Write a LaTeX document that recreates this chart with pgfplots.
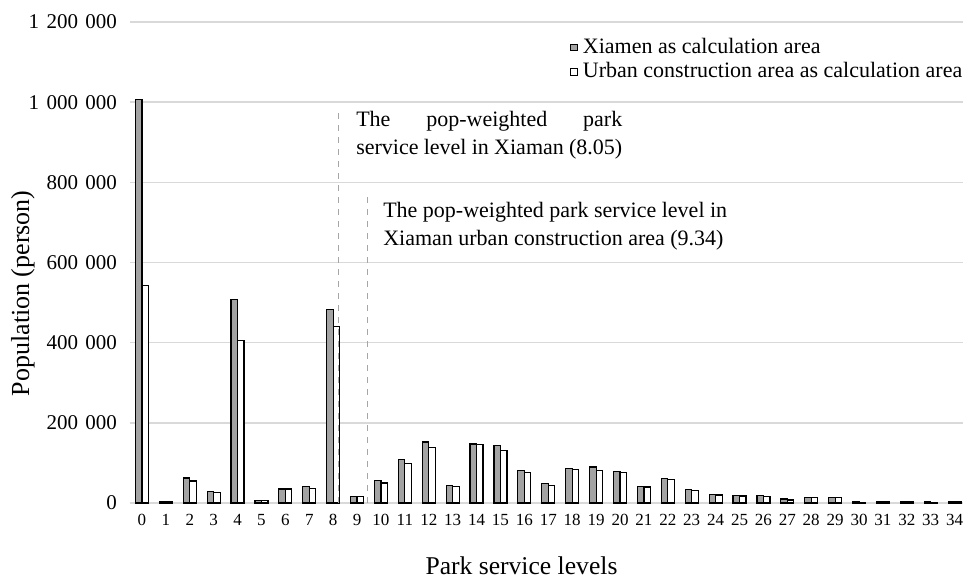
\documentclass[border=0pt]{standalone}
\usepackage{fontspec}
\setmainfont{Liberation Serif}
\usepackage{pgfplots}
\pgfplotsset{compat=1.18}
\definecolor{barg}{HTML}{A3A3A3}
\definecolor{gridg}{HTML}{D9D9D9}
\begin{document}
\begin{tikzpicture}
\begin{axis}[
  scale only axis,
  width=416.5pt, height=240.5pt,
  xmin=-0.5, xmax=34.35,
  ymin=0, ymax=1200000,
  ybar=0pt, bar width=3.25pt,
  axis line style={draw=none},
  major tick length=0pt,
  ymajorgrids, grid style={gridg, line width=0.7pt},
  xtick={0,...,34},
  ytick={0,200000,400000,600000,800000,1000000,1200000},
  scaled y ticks=false,
  /pgf/number format/.cd, fixed, precision=0, 1000 sep={\hspace{0.35em}}, assume math mode=true,
  /pgfplots/.cd,
  yticklabel style={font=\fontsize{10.5}{12}\selectfont, xshift=-3pt},
  xticklabel style={font=\fontsize{8.5}{10}\selectfont, yshift=-2pt},
  ylabel={Population (person)},
  xlabel={Park service levels},
  ylabel style={font=\fontsize{13}{14}\selectfont, at={(rel axis cs:0,0.436)}, anchor=center, yshift=53.5pt},
  xlabel style={font=\fontsize{12.8}{14}\selectfont, yshift=-8.5pt, xshift=-12.5pt},
  legend style={at={(0.528,0.975)}, anchor=north west, draw=none, fill=none,
    font=\fontsize{11}{12}\selectfont, inner sep=0pt, row sep=-1pt, column sep=0.5pt,
    cells={anchor=west}},
  legend cell align=left,
  legend image code/.code={\draw[#1, line width=0.45pt] (0pt,-1.7pt) rectangle (3.4pt,1.7pt);},
  clip=false,
]
\addplot[draw=black, fill=barg, line width=0.6pt] coordinates {
(0,1005800) (1,3000) (2,62300) (3,28600) (4,507500) (5,6000) (6,35000) (7,41800) (8,482500) (9,15900)
(10,56000) (11,108000) (12,152000) (13,43000) (14,147000) (15,143000) (16,81000) (17,48000) (18,87000) (19,90000)
(20,79000) (21,42000) (22,62000) (23,34000) (24,22000) (25,19000) (26,19000) (27,10000) (28,14000) (29,14000)
(30,2500) (31,3000) (32,3000) (33,2500) (34,3000)};
\addlegendentry{Xiamen as calculation area}
\addplot[draw=black, fill=white, line width=0.6pt] coordinates {
(0,543000) (1,3000) (2,54700) (3,25300) (4,405750) (5,6000) (6,35000) (7,36700) (8,440800) (9,15900)
(10,50000) (11,98000) (12,138000) (13,41000) (14,145000) (15,130000) (16,76000) (17,44000) (18,84000) (19,82000)
(20,76000) (21,40000) (22,58000) (23,31000) (24,20000) (25,17500) (26,16500) (27,7600) (28,14000) (29,13000)
(30,2000) (31,2500) (32,2500) (33,2000) (34,2500)};
\addlegendentry{Urban construction area as calculation area}
\addplot[sharp plot, forget plot, draw=gray!70, dashed, line width=0.5pt, mark=none] coordinates {(8.23,0) (8.23,975000)};
\addplot[sharp plot, forget plot, draw=gray!70, dashed, line width=0.5pt, mark=none] coordinates {(9.45,0) (9.45,775000)};
\node[anchor=north west, inner sep=0pt, text width=133pt, align=justify,
  font=\fontsize{11}{14}\selectfont] at (axis cs:8.95,977500)
  {The pop-weighted park\linebreak service level in Xiaman (8.05)};
\node[anchor=north west, inner sep=0pt, align=left,
  font=\fontsize{11}{14}\selectfont] at (axis cs:10.08,752500)
  {The pop-weighted park service level in\\Xiaman urban construction area (9.34)};
\end{axis}
\pgfresetboundingbox
\path (current axis.south west) ++(-65pt,-39.5pt) coordinate (bbA);
\path (current axis.north east) ++(0.5pt,11pt) coordinate (bbB);
\path[use as bounding box] (bbA) rectangle (bbB);
\end{tikzpicture}
\end{document}
